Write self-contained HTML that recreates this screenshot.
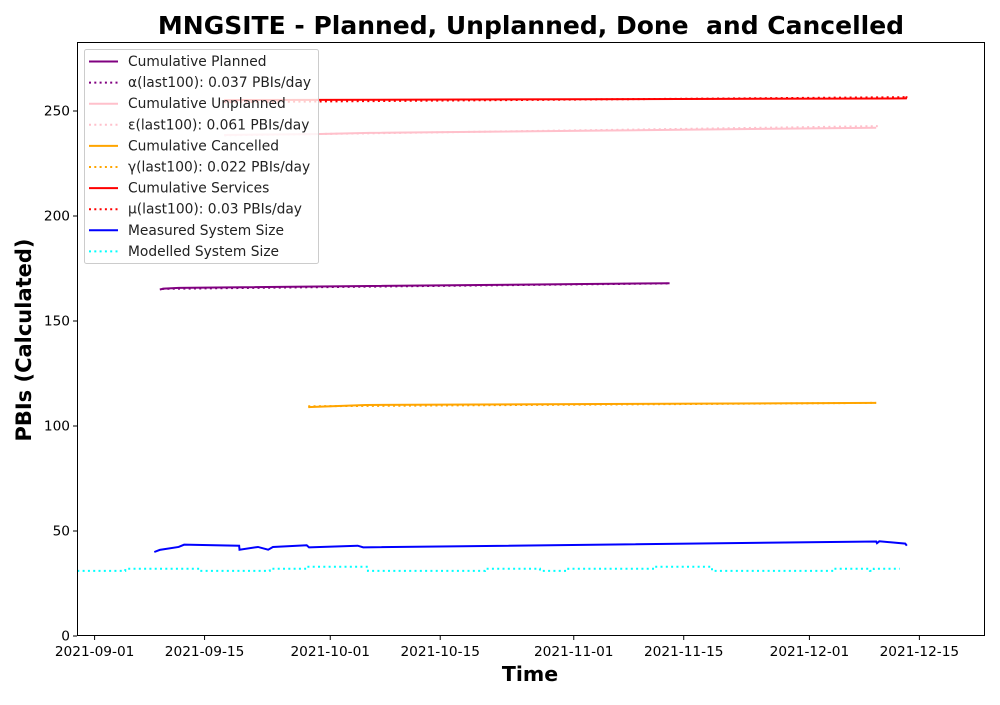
<!DOCTYPE html>
<html><head><meta charset="utf-8"><style>
body{margin:0;background:#fff;}
svg text{font-family:"DejaVu Sans","Liberation Sans",sans-serif;}
</style></head><body>
<svg id="chart" width="1000" height="700" xmlns="http://www.w3.org/2000/svg">
<rect width="1000" height="700" fill="#fff"/>
<text x="531" y="34" text-anchor="middle" font-size="25" font-weight="bold" xml:space="preserve" style="white-space:pre">MNGSITE - Planned, Unplanned, Done  and Cancelled</text>
<text x="530" y="681" text-anchor="middle" font-size="20.5" font-weight="bold">Time</text>
<text transform="translate(31,340) rotate(-90)" text-anchor="middle" font-size="21" font-weight="bold">PBIs (Calculated)</text>
<g id="grid"></g>
<g id="series"></g>
<rect x="77.5" y="42.5" width="907" height="593" fill="none" stroke="#000" stroke-width="1"/>
<g id="legend"></g>
</svg>
<script>
const xTickLabels=["2021-09-01","2021-09-15","2021-10-01","2021-10-15","2021-11-01","2021-11-15","2021-12-01","2021-12-15"];
const xTickDays=[0,14,30,44,61,75,91,105];
const yTicks=[0,50,100,150,200,250];
const plannedDays=[8.3,8.8,10.7,73.2];
const plannedVals=[165,165.4,165.8,168];
const plannedFitDays=[8.6,73.2];
const plannedFitVals=[165.3,167.9];
const unplannedDays=[16.5,28,35,99.5];
const unplannedVals=[238.6,239,239.6,242];
const unplannedFitDays=[16.5,99.7];
const unplannedFitVals=[238.4,242.8];
const cancelledDays=[27.2,28,34.5,99.5];
const cancelledVals=[109,109.1,110,111];
const cancelledFitDays=[27.2,99.5];
const cancelledFitVals=[109.4,111];
const servicesDays=[16.5,103.2,103.3,103.4];
const servicesVals=[255.2,256,256,257];
const servicesFitDays=[16.5,103.4];
const servicesFitVals=[254.2,256.6];
const measuredDays=[7.6,8.3,10.7,11.4,18.4,18.45,20.8,22.1,22.7,27,27.3,33.5,34.2,99.5,99.6,99.9,103.2,103.4];
const measuredVals=[40,41,42.4,43.5,43,41.1,42.4,41.1,42.4,43.2,42.2,43,42.2,45,44.2,45.1,44,43];
const modelDays=[-2.2,3.9,13.4,22.3,26.8,34.8,49.7,56.7,60.3,71.3,78.6,93.9,98.7,99.2,102.5];
const modelVals=[31,32,31,32,33,31,32,31,32,33,31,32,31,32,32];

const X=d=>94.6+d*7.855;
const Y=v=>636-v*2.1;
const NS="http://www.w3.org/2000/svg";
function mk(tag,attrs,parent,text){const e=document.createElementNS(NS,tag);for(const k in attrs)e.setAttribute(k,attrs[k]);if(text!==undefined)e.textContent=text;parent.appendChild(e);return e;}
const grid=document.getElementById('grid');
xTickDays.forEach((d,i)=>{
  const t=mk('line',{x1:X(d),x2:X(d),y1:636,y2:640,stroke:'#000'},grid);
  
  
  const l=mk('text',{x:X(d),y:656,'text-anchor':'middle','font-size':'13.7'},grid,xTickLabels[i]);
  
  
});
yTicks.forEach(v=>{
  const t=mk('line',{x1:73,x2:77,y1:Y(v),y2:Y(v),stroke:'#000'},grid);
  
  
  const l=mk('text',{x:70,y:Y(v)+4.5,'text-anchor':'end','font-size':'13.7'},grid,String(v));
  
  
});
const ser=document.getElementById('series');
function line(days,vals,color,dotted,name,step){
  let pts=[];
  days.forEach((d,i)=>{
    if(step&&i>0)pts.push(X(d)+','+Y(vals[i-1]));
    pts.push(X(d)+','+Y(vals[i]));
  });
  const p=mk('polyline',{points:pts.join(' '),fill:'none',stroke:color,'stroke-width':'2','stroke-dasharray':dotted?'2,3.3':'none'},ser);
  
  
}
line(modelDays,modelVals,'cyan',true,'modelled-system-size-line',true);
line(measuredDays,measuredVals,'blue',false,'measured-system-size-line');
line(plannedDays,plannedVals,'purple',false,'cumulative-planned-line');
line(plannedFitDays,plannedFitVals,'purple',true,'planned-rate-line');
line(unplannedDays,unplannedVals,'pink',false,'cumulative-unplanned-line');
line(unplannedFitDays,unplannedFitVals,'pink',true,'unplanned-rate-line');
line(cancelledDays,cancelledVals,'orange',false,'cumulative-cancelled-line');
line(cancelledFitDays,cancelledFitVals,'orange',true,'cancelled-rate-line');
line(servicesDays,servicesVals,'red',false,'cumulative-services-line');
line(servicesFitDays,servicesFitVals,'red',true,'services-rate-line');

const legendLabels=["Cumulative Planned","α(last100): 0.037 PBIs/day","Cumulative Unplanned","ε(last100): 0.061 PBIs/day","Cumulative Cancelled","γ(last100): 0.022 PBIs/day","Cumulative Services","μ(last100): 0.03 PBIs/day","Measured System Size","Modelled System Size"];
const legendColors=["purple","purple","pink","pink","orange","orange","red","red","blue","cyan"];
const legendDotted=[false,true,false,true,false,true,false,true,false,true];
const lg=document.getElementById('legend');
mk('rect',{x:84.5,y:49.5,width:234,height:214,rx:2,fill:'rgba(255,255,255,0.8)',stroke:'#ccc'},lg);
legendLabels.forEach((t,i)=>{
  const y=61.5+i*21.1;
  const g=mk('g',{},lg);
  
  
  mk('line',{x1:89,x2:118,y1:y,y2:y,stroke:legendColors[i],'stroke-width':'2','stroke-dasharray':legendDotted[i]?'2,3.3':'none'},g);
  mk('text',{x:128,y:y+4.5,'font-size':'13.8',fill:'#222'},g,t);
});
</script>
</body></html>
